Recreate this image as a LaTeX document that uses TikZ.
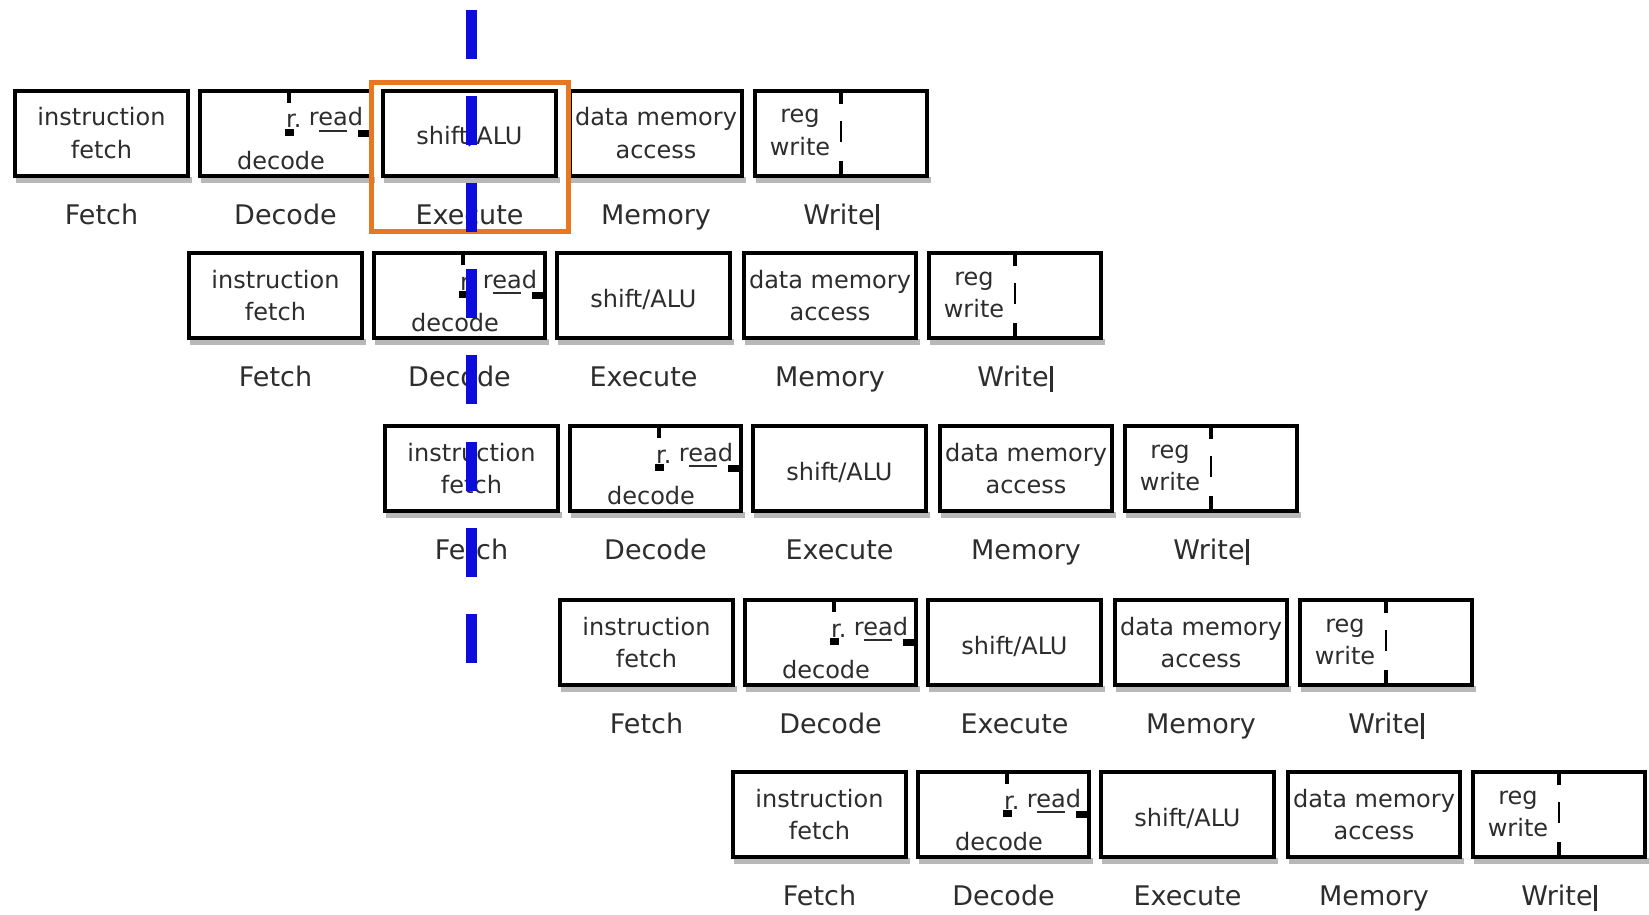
\documentclass[tikz,border=0pt]{standalone}
\usepackage{fontspec}
\setmainfont{DejaVu Sans}
\definecolor{inkgray}{RGB}{45,45,45}
\definecolor{hiorange}{RGB}{232,119,34}
\definecolor{cutblue}{RGB}{12,12,220}
\tikzset{
  stagebox/.style={draw=black, line width=4pt, fill=white, minimum height=85pt,
    anchor=north west, inner sep=0pt, outer sep=0pt},
  boxshadow/.style={fill=black!28},
  boxtext/.style={anchor=base, inner sep=0pt, text=inkgray,
    font=\fontsize{24}{28}\selectfont},
  stagelabel/.style={anchor=base, inner sep=0pt, text=inkgray,
    font=\fontsize{27}{32}\selectfont},
  markline/.style={draw=black, line width=3.5pt},
  focusframe/.style={draw=hiorange, line width=5pt, anchor=north west,
    inner sep=0pt, outer sep=0pt},
  cutline/.style={draw=cutblue, line width=11pt, dash pattern=on 49pt off 37.3pt},
}
% one instruction: five pipeline stages in a row
% #1 name prefix, #2 left edge, #3 top edge (in px, y downwards)
\newcommand{\pipestage}[3]{%
\begin{scope}[shift={(#2,#3)}]
  \foreach \a/\w in {0/177,185/175,368/177,555/176,740/176}
    \fill[boxshadow] ({\a+3},88) rectangle ({\a+\w+2},94);
  \node[stagebox, minimum width=173pt] (#1f) at (2,2) {};
  \node[stagebox, minimum width=171pt] (#1d) at (187,2) {};
  \node[stagebox, minimum width=173pt] (#1e) at (370,2) {};
  \node[stagebox, minimum width=172pt] (#1m) at (557,2) {};
  \node[stagebox, minimum width=172pt] (#1w) at (742,2) {};
  % fetch
  \node[boxtext] (#1f1) at (88.5,37) {instruction};
  \node[boxtext] (#1f2) at (88.5,69) {fetch};
  % decode with register read
  \draw[markline] (276,2) -- (276,14);
  \fill[black] (272,40) rectangle (281,47);
  \node[boxtext, anchor=base west] (#1dr) at (273,39) {r.};
  \node[boxtext] (#1d1) at (323,37) {read};
  \draw[inkgray, line width=1.5pt] (306,42) -- (334,42);
  \fill[black] (345,41) rectangle (359,48);
  \node[boxtext] (#1d2) at (268,80) {decode};
  % execute
  \node[boxtext] (#1e1) at (456.5,56) {shift/ALU};
  % memory
  \node[boxtext] (#1m1) at (643,37) {data memory};
  \node[boxtext] (#1m2) at (643,69) {access};
  % register write
  \draw[markline] (828,2) -- (828,15);
  \draw[markline, line width=2pt] (828,32) -- (828,53);
  \draw[markline] (828,72) -- (828,87);
  \node[boxtext] (#1w1) at (787,34) {reg};
  \node[boxtext] (#1w2) at (787,66) {write};
  % stage names
  \node[stagelabel] (#1lf) at (88.5,135) {Fetch};
  \node[stagelabel] (#1ld) at (272.5,135) {Decode};
  \node[stagelabel] (#1le) at (456.5,135) {Execute};
  \node[stagelabel] (#1lm) at (643,135) {Memory};
  \node[stagelabel] (#1lw) at (828,135) {Write\hspace{1.5pt}\rule[-6pt]{2.5pt}{26pt}};
\end{scope}}

\begin{document}
\begin{tikzpicture}[x=1pt,y=-1pt]
  \fill[white] (0,0) rectangle (1649,915);
  \useasboundingbox (0,0) rectangle (1649,915);

  \pipestage{a}{13}{89}
  \pipestage{b}{187}{251}
  \pipestage{c}{383}{424}
  \pipestage{d}{558}{598}
  \pipestage{e}{731}{770}

  % highlighted execute stage of the first instruction
  \node[focusframe, minimum width=197pt, minimum height=148pt] (focus) at (371,83) {};

  % cut line through the pipeline
  \coordinate (cuttop) at (471,10);
  \coordinate (cutbot) at (471,663);
  \draw[cutline] (cuttop) -- (cutbot);
\end{tikzpicture}
\end{document}
